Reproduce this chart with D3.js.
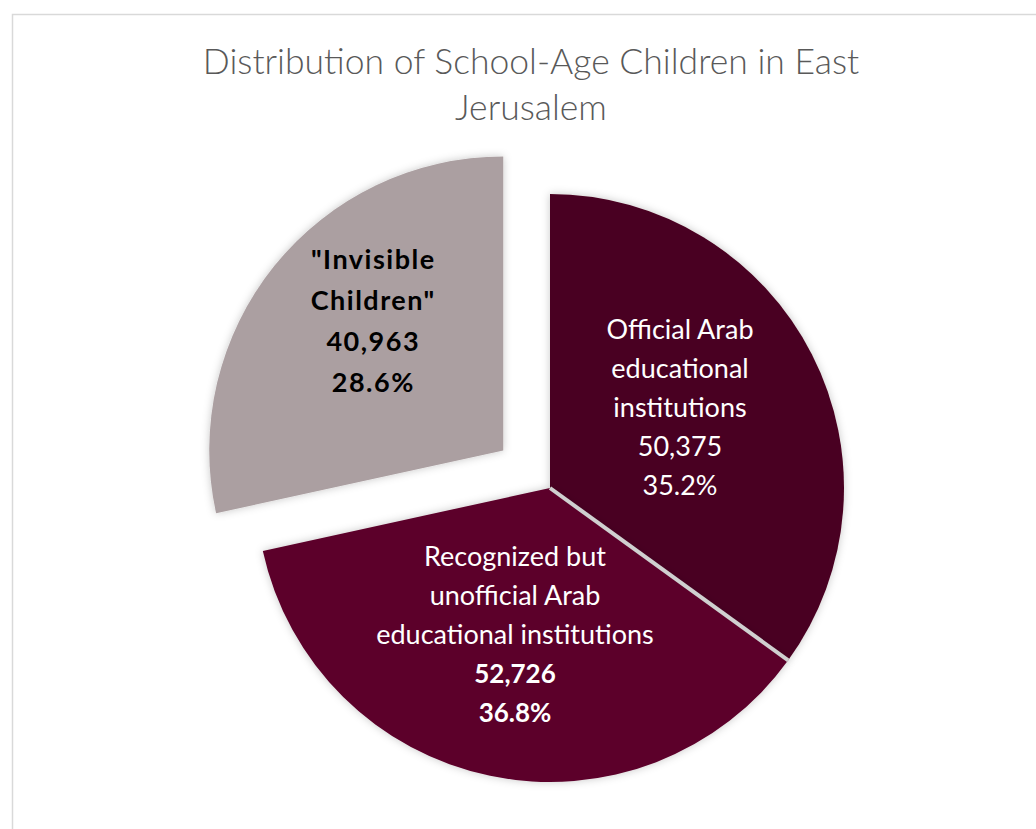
<!DOCTYPE html>
<html>
<head>
	<title></title>
	<style>
		body { margin: 0; background: #fff; }
		text { font-family: Lato, "Open Sans", sans-serif; }
	</style>
</head>
<body>
	<svg id="container" height="829" width="1036"></svg>
</body>
<script src="https://d3js.org/d3.v7.min.js"></script>
<script>
	// data
	let categories = ["Official Arab educational institutions",
		"Recognized but unofficial Arab educational institutions",
		"\"Invisible Children\""]
	let values = [50375, 52726, 40963]
	let percents = ["35.2%", "36.8%", "28.6%"]
	let labelLines = [
		["Official Arab", "educational", "institutions"],
		["Recognized but", "unofficial Arab", "educational institutions"],
		["\"Invisible", "Children\""]
	]
	let titleLines = ["Distribution of School-Age Children in East", "Jerusalem"]

	let svg = d3.select("#container")

	// chart area frame
	svg.append("rect")
		.attr("x", 12.5).attr("y", 14.5)
		.attr("width", 1100).attr("height", 900)
		.attr("fill", "white")
		.attr("stroke", "#d9d9d9")
		.attr("stroke-width", 1.5)

	let defs = svg.append("defs")
	let f = defs.append("filter").attr("id", "shadow")
		.attr("x", "-20%").attr("y", "-20%").attr("width", "140%").attr("height", "140%")
	f.append("feDropShadow")
		.attr("dx", 0).attr("dy", 0)
		.attr("stdDeviation", 4)
		.attr("flood-color", "#000")
		.attr("flood-opacity", 0.22)

	svg.append("g").selectAll("text")
		.data(titleLines)
		.enter().append("text")
		.attr("x", 531)
		.attr("y", (d, i) => 74 + i * 46)
		.attr("text-anchor", "middle")
		.attr("font-size", 35.5)
		.attr("font-weight", 300)
		.attr("fill", "#595959")
		.text(d => d)

	let cx = 550, cy = 488, radius = 294
	let explode = [0, 0, 60]
	let colors = d3.scaleOrdinal()
		.domain(categories)
		.range(["#4a0020", "#5b022a", "#ab9fa1"])

	let pie = d3.pie().sort(null).value(d => d.value)
	let arcs = pie(categories.map((c, i) => ({ name: c, value: values[i], i: i })))

	let arc = d3.arc().innerRadius(0).outerRadius(radius)

	let body = svg.append("g").attr("transform", `translate(${cx},${cy})`)

	function offset(d) {
		let mid = (d.startAngle + d.endAngle) / 2
		let e = explode[d.data.i]
		return [Math.sin(mid) * e, -Math.cos(mid) * e]
	}

	let slices = body.selectAll("g.slice")
		.data(arcs)
		.enter().append("g")
		.attr("class", "slice")
		.attr("transform", d => `translate(${offset(d)})`)

	slices.append("path")
		.attr("d", arc)
		.attr("fill", d => colors(d.data.name))
		.attr("filter", "url(#shadow)")

	// light separator where the two joined slices meet
	let a = arcs[0].endAngle
	body.append("line")
		.attr("x1", 0).attr("y1", 0)
		.attr("x2", Math.sin(a) * radius).attr("y2", -Math.cos(a) * radius)
		.attr("stroke", "#d0d0d0")
		.attr("stroke-width", 4)

	// labels (nudged to sit where the original puts them)
	let labelPos = [[130, -80], [-35, 147], [-130, -129]]
	let lineH = [39, 39, 41]
	slices.each(function(d) {
		let i = d.data.i
		let lx = labelPos[i][0], ly = labelPos[i][1]
		let lines = labelLines[i].map(t => ({ t: t, bold: i == 2 }))
		lines.push({ t: d3.format(",")(values[i]), bold: i != 0 })
		lines.push({ t: percents[i], bold: i != 0 })
		let n = lines.length
		d3.select(this).selectAll("text")
			.data(lines)
			.enter().append("text")
			.attr("x", lx)
			.attr("y", (l, k) => ly + (k - (n - 1) / 2) * lineH[i] + 9)
			.attr("text-anchor", "middle")
			.attr("font-size", l => i == 2 ? 27 : (l.bold ? 26 : 27))
			.attr("font-weight", l => l.bold ? 700 : 400)
			.attr("letter-spacing", i == 2 ? 1.5 : 0)
			.attr("fill", i == 2 ? "#000" : "#fff")
			.text(l => l.t)
	})
</script>
</html>
